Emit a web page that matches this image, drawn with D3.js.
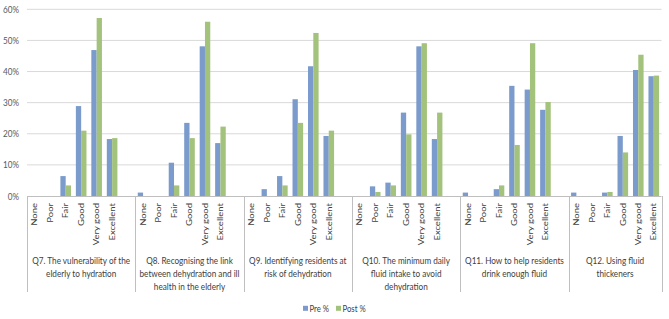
<!DOCTYPE html>
<html>
<head>
<meta charset="utf-8">
<script src="https://cdn.jsdelivr.net/npm/d3@7"></script>
<style>
  body { margin: 0; background: #fff; }
  svg { font-family: Lato, "Open Sans", sans-serif; }
  .tick_label { font-size: 10px; fill: #595959; }
  .cat_label { font-size: 9.5px; fill: #404040; }
  .group_label { font-size: 10px; fill: #404040; }
  .legend_label { font-size: 9.5px; fill: #404040; }
</style>
</head>
<body>
<svg id="chart" width="669" height="319">
  <g id="grid"></g>
  <g id="bars"></g>
  <g id="axes"></g>
  <g id="legend"></g>
</svg>
<script>
let categories = ["None", "Poor", "Fair", "Good", "Very good", "Excellent"],
  groups = ["Q7", "Q8", "Q9", "Q10", "Q11", "Q12"],
  group_labels = [
    ["Q7. The vulnerability of the", "elderly to hydration"],
    ["Q8. Recognising the link", "between dehydration and ill", "health in the elderly"],
    ["Q9. Identifying residents at", "risk of dehydration"],
    ["Q10. The minimum daily", "fluid intake to avoid", "dehydration"],
    ["Q11. How to help residents", "drink enough fluid"],
    ["Q12. Using fluid", "thickeners"]
  ],
  series = ["Pre %", "Post %"],
  pre = [
    [0, 0, 6.4, 28.9, 46.9, 18.3],
    [1.1, 0, 10.7, 23.5, 48.1, 17.0],
    [0, 2.2, 6.4, 31.1, 41.7, 19.3],
    [0, 3.1, 4.3, 26.8, 48.1, 18.3],
    [1.1, 0, 2.2, 35.4, 34.2, 27.7],
    [1.1, 0, 1.1, 19.3, 40.5, 38.5]
  ],
  post = [
    [0, 0, 3.4, 21.0, 57.2, 18.6],
    [0, 0, 3.4, 18.6, 56.0, 22.3],
    [0, 0, 3.4, 23.5, 52.4, 21.0],
    [0, 1.3, 3.4, 19.8, 49.1, 26.8],
    [0, 0, 3.4, 16.4, 49.1, 30.2],
    [0, 0, 1.3, 14.0, 45.4, 38.7]
  ],
  y_ticks = [0, 10, 20, 30, 40, 50, 60];

let width = 669,
  height = 319,
  colors = ["#7b9bcc", "#a3c27b"],
  squeeze = 0.82,   // the source picture is squeezed sideways
  margins = {left: 27, right: 7.5, top: 9.3, axis: 196, sep_bottom: 292, cat_top: 203};

// slots: 6 categories + 1 blank between groups, no blank after the last
let slots = [];
groups.forEach((g, gi) => {
  categories.forEach(c => slots.push(g + "|" + c));
  if (gi < groups.length - 1) slots.push(g + "|blank");
});

let bar_data = [];
groups.forEach((g, gi) => {
  categories.forEach((c, ci) => {
    bar_data.push({slot: g + "|" + c, s: series[0], v: pre[gi][ci]});
    bar_data.push({slot: g + "|" + c, s: series[1], v: post[gi][ci]});
  });
});

let scales = {
  x: d3.scaleBand().domain(slots).range([margins.left, width - margins.right]).padding(0),
  y: d3.scaleLinear().domain([0, 60]).range([margins.axis, margins.top])
};
scales.s = d3.scaleBand().domain(series).range([0, scales.x.bandwidth()])
  .paddingInner(0).paddingOuter(0.46);
scales.fill = d3.scaleOrdinal().domain(series).range(colors);

let x_end = width - margins.right;

// gridlines
d3.select("#grid").selectAll("line")
  .data(y_ticks.filter(d => d > 0)).enter()
  .append("line")
  .attr("x1", margins.left).attr("x2", x_end)
  .attr("y1", d => scales.y(d)).attr("y2", d => scales.y(d))
  .attr("stroke", "#d9d9d9").attr("stroke-width", 1);

// y tick labels
d3.select("#axes").selectAll("text.tick_label")
  .data(y_ticks).enter()
  .append("text")
  .attr("class", "tick_label")
  .attr("transform", d => `translate(19, ${scales.y(d)})scale(${squeeze}, 1)`)
  .attr("dy", "0.35em")
  .attr("text-anchor", "end")
  .text(d => d + "%");

// bars
d3.select("#bars").selectAll("rect")
  .data(bar_data.filter(d => d.v > 0)).enter()
  .append("rect")
  .attr("x", d => scales.x(d.slot) + scales.s(d.s))
  .attr("width", scales.s.bandwidth())
  .attr("y", d => scales.y(d.v))
  .attr("height", d => scales.y(0) - scales.y(d.v))
  .attr("fill", d => scales.fill(d.s));

// x axis line
let axes = d3.select("#axes");
axes.append("line")
  .attr("x1", margins.left).attr("x2", x_end)
  .attr("y1", margins.axis + 0.5).attr("y2", margins.axis + 0.5)
  .attr("stroke", "#bfbfbf");

// group separators
let seps = [margins.left].concat(groups.slice(1).map(g => scales.x(g + "|None")), [x_end]);
axes.selectAll("line.sep")
  .data(seps).enter()
  .append("line")
  .attr("class", "sep")
  .attr("x1", d => Math.round(d) + 0.5).attr("x2", d => Math.round(d) + 0.5)
  .attr("y1", margins.axis).attr("y2", margins.sep_bottom)
  .attr("stroke", "#bfbfbf");

// category labels
groups.forEach(g => {
  axes.append("g").selectAll("text")
    .data(categories).enter()
    .append("text")
    .attr("class", "cat_label")
    .attr("transform", c => `translate(${scales.x(g + "|" + c) + scales.x.bandwidth() / 2}, ${margins.cat_top})rotate(-90)scale(1, ${squeeze})`)
    .attr("dy", "0.35em")
    .attr("text-anchor", "end")
    .text(c => c);
});

// group labels
groups.forEach((g, gi) => {
  let cx = (seps[gi] + seps[gi + 1]) / 2;
  axes.append("text")
    .attr("class", "group_label")
    .attr("text-anchor", "middle")
    .attr("transform", `translate(${cx}, 0)scale(${squeeze}, 1)`)
    .selectAll("tspan")
    .data(group_labels[gi]).enter()
    .append("tspan")
    .attr("x", 0)
    .attr("y", (d, i) => 264.5 + i * 12.7)
    .text(d => d);
});

// legend
let legend = d3.select("#legend").selectAll("g")
  .data(series).enter()
  .append("g")
  .attr("transform", (d, i) => `translate(${i == 0 ? 303 : 336}, 308.3)`);
legend.append("rect")
  .attr("x", 0).attr("y", -2.5).attr("width", 5).attr("height", 5)
  .attr("fill", d => scales.fill(d));
legend.append("text")
  .attr("class", "legend_label")
  .attr("transform", `translate(6.5, 0)scale(${squeeze}, 1)`)
  .attr("dy", "0.35em")
  .text(d => d);
</script>
</body>
</html>
